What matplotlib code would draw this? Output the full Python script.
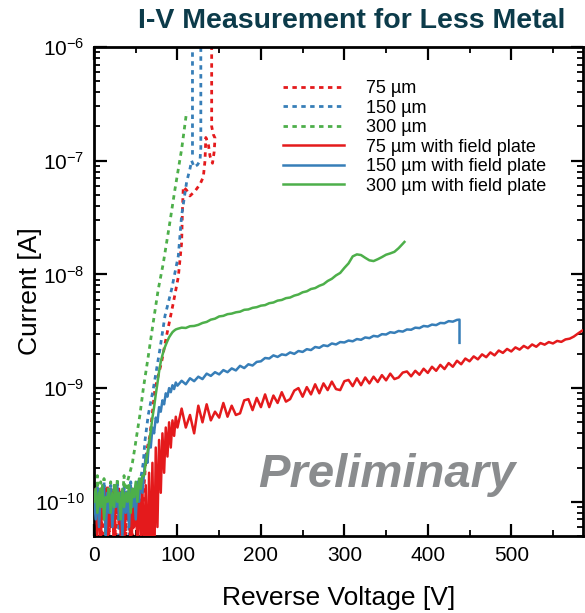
import numpy as np
import matplotlib
matplotlib.use('Agg')
import matplotlib.pyplot as plt
from matplotlib.ticker import LogLocator, MultipleLocator, FixedLocator, NullFormatter

plt.rcParams['font.family'] = ['Liberation Sans', 'DejaVu Sans']
plt.rcParams['mathtext.default'] = 'regular'

# ---- data (current in nA) ----
# 75 um, no field plate (dotted)
v_75 = list(range(0, 62, 2)) + [63, 67, 73, 81, 87, 95, 101, 105, 106, 107, 111, 115, 121, 127, 131, 133,
                                 134, 137, 139, 142, 144, 145, 143, 141, 141]
i_75 = [0.09, 0.05, 0.12, 0.06, 0.13, 0.04, 0.11, 0.07, 0.14, 0.05, 0.10, 0.08, 0.13, 0.04, 0.12, 0.06,
        0.11, 0.08, 0.13, 0.05, 0.12, 0.07, 0.10, 0.04, 0.13, 0.06, 0.12, 0.08, 0.11, 0.05, 0.14,
        0.28, 0.38, 0.98, 1.7, 2.9, 5.6, 9.5, 19, 37, 59, 55, 49, 54, 62, 72, 100,
        160, 140, 110, 95, 120, 158, 170, 200, 3000]

# 150 um, no field plate (dotted)
v_150 = list(range(0, 58, 2)) + [59, 61, 65, 71, 79, 85, 93, 101, 105, 111, 115, 117, 120, 124, 127, 128,
                                 128, 118, 118]
i_150 = [0.12, 0.07, 0.14, 0.06, 0.11, 0.09, 0.15, 0.05, 0.12, 0.08, 0.14, 0.06, 0.13, 0.09, 0.15,
         0.05, 0.12, 0.07, 0.14, 0.08, 0.13, 0.05, 0.15, 0.09, 0.12, 0.06, 0.14, 0.10, 0.16,
         0.22, 0.34, 0.58, 0.98, 2.2, 4.3, 7.4, 14.5, 33, 65, 85, 100, 88, 92, 100, 130,
         3000, 3000, 110]

# 300 um, no field plate (dotted)
v_300 = list(range(0, 42, 2)) + [43, 46, 49, 52, 55, 59, 65, 71, 77, 83, 91, 97, 105, 111]
i_300 = [0.14, 0.08, 0.17, 0.06, 0.15, 0.09, 0.16, 0.05, 0.13, 0.08, 0.15, 0.06, 0.14, 0.09, 0.16,
         0.07, 0.13, 0.10, 0.17, 0.08, 0.15,
         0.18, 0.22, 0.30, 0.42, 0.58, 0.98, 1.9, 3.8, 7.4, 12.5, 29, 56, 126, 270]

# 75 um with field plate
v_75fp = list(range(0, 102, 2)) + list(range(105, 590, 5))
i_75fp = [0.08, 0.13, 0.05, 0.11, 0.04, 0.12, 0.07, 0.13, 0.04, 0.10, 0.06, 0.12, 0.03, 0.11, 0.08,
          0.13, 0.05, 0.12, 0.04, 0.10, 0.07, 0.12, 0.03, 0.13, 0.06, 0.11, 0.04, 0.12, 0.05, 0.13,
          0.03, 0.14, 0.02, 0.18, 0.03, 0.22, 0.02, 0.30, 0.06, 0.35, 0.12, 0.40, 0.18, 0.45, 0.25,
          0.50, 0.30, 0.52, 0.38, 0.56, 0.45,
          0.66, 0.45, 0.58, 0.40, 0.70, 0.50, 0.72, 0.52, 0.62, 0.55,
          0.74, 0.56, 0.70, 0.58, 0.60, 0.78, 0.80, 0.64, 0.82, 0.68,
          0.88, 0.68, 0.86, 0.74, 0.92, 0.76, 0.80, 0.95, 1.00, 0.84,
          1.02, 0.88, 1.08, 0.90, 1.10, 0.96, 1.14, 0.98, 0.96, 1.15,
          1.18, 1.04, 1.22, 1.06, 1.24, 1.10, 1.26, 1.13, 1.30, 1.17,
          1.34, 1.20, 1.24, 1.37, 1.40, 1.27, 1.42, 1.31, 1.48, 1.36,
          1.54, 1.42, 1.60, 1.47, 1.66, 1.54, 1.74, 1.62, 1.82, 1.72,
          1.90, 1.79, 1.98, 1.87, 2.06, 1.94, 2.14, 2.04, 2.21, 2.10,
          2.28, 2.18, 2.35, 2.24, 2.42, 2.31, 2.49, 2.41, 2.54, 2.47,
          2.60, 2.55, 2.68, 2.72, 2.84, 3.02, 3.2]

# 150 um with field plate
v_150fp = list(range(0, 102, 2)) + list(range(105, 440, 5)) + [438, 438]
i_150fp = [0.11, 0.07, 0.13, 0.06, 0.12, 0.09, 0.14, 0.05, 0.12, 0.08, 0.13, 0.06, 0.11, 0.09, 0.14,
           0.07, 0.12, 0.05, 0.13, 0.08, 0.12, 0.06, 0.14, 0.09, 0.13, 0.07, 0.15, 0.10, 0.16, 0.12,
           0.18, 0.26, 0.22, 0.34, 0.30, 0.45, 0.40, 0.55, 0.50, 0.68, 0.62, 0.78, 0.72, 0.90, 0.84,
           1.00, 0.92, 1.06, 0.98, 1.12, 1.05,
           1.16, 1.08, 1.22, 1.15, 1.26, 1.20, 1.34, 1.28, 1.38, 1.32, 1.44, 1.38, 1.49, 1.43, 1.57,
           1.50, 1.62, 1.58, 1.70, 1.72, 1.84, 1.82, 1.94, 1.88, 1.98, 1.95, 2.06, 2.00, 2.12, 2.08,
           2.20, 2.16, 2.30, 2.26, 2.38, 2.34, 2.47, 2.42, 2.54, 2.52, 2.62, 2.58, 2.70, 2.66, 2.79,
           2.75, 2.88, 2.84, 2.98, 2.96, 3.10, 3.06, 3.18, 3.14, 3.28, 3.26, 3.40, 3.37, 3.52, 3.48,
           3.62, 3.58, 3.74, 3.72, 3.88, 3.84, 3.98, 4.00, 2.5]

# 300 um with field plate
v_300fp = list(range(0, 102, 2)) + list(range(105, 375, 5)) + [372]
i_300fp = [0.10, 0.13, 0.08, 0.12, 0.09, 0.14, 0.07, 0.11, 0.10, 0.13, 0.08, 0.12, 0.09, 0.14, 0.10,
           0.12, 0.07, 0.13, 0.09, 0.12, 0.10, 0.14, 0.08, 0.13, 0.11, 0.15, 0.10, 0.16, 0.13, 0.17,
           0.17, 0.22, 0.27, 0.33, 0.42, 0.55, 0.68, 0.88, 1.10, 1.40, 1.70, 1.95, 2.20, 2.40, 2.60,
           2.80, 2.95, 3.10, 3.20, 3.28, 3.32,
           3.40, 3.38, 3.50, 3.52, 3.60, 3.74, 3.82, 4.00, 4.08, 4.27, 4.32, 4.47, 4.52, 4.64, 4.70,
           4.88, 4.92, 5.08, 5.15, 5.31, 5.37, 5.58, 5.66, 5.88, 5.96, 6.18, 6.26, 6.51, 6.66, 6.96,
           7.10, 7.44, 7.58, 7.94, 8.20, 8.75, 9.15, 9.80, 10.3, 11.4, 12.5, 14.4, 15.0, 14.8, 14.0,
           13.3, 13.1, 13.6, 14.2, 14.9, 15.3, 15.8, 17.0, 18.6, 19.3]

red = '#e41a1c'
blue = '#377eb8'
green = '#4daf4a'

fig = plt.figure(figsize=(5.85, 6.13), dpi=100)
ax = fig.add_axes([0.1607, 0.1256, 0.8359, 0.7977])

dot = (0, (1.6, 1.6))
ax.plot(v_75, np.array(i_75) * 1e-9, color=red, lw=2, ls=dot, label='75 µm')
ax.plot(v_150, np.array(i_150) * 1e-9, color=blue, lw=2, ls=dot, label='150 µm')
ax.plot(v_300, np.array(i_300) * 1e-9, color=green, lw=2, ls=dot, label='300 µm')
ax.plot(v_75fp, np.array(i_75fp) * 1e-9, color=red, lw=1.8, label='75 µm with field plate')
ax.plot(v_150fp, np.array(i_150fp) * 1e-9, color=blue, lw=1.8, label='150 µm with field plate')
ax.plot(v_300fp, np.array(i_300fp) * 1e-9, color=green, lw=1.8, label='300 µm with field plate')

# draw order like the original: green solid under blue under red
for ln, z in zip(ax.lines, [2, 2, 2, 3, 4, 5]):
    ln.set_zorder(z)

ax.set_yscale('log')
ax.set_xlim(0, 586)
ax.set_ylim(5e-11, 1e-6)

ax.xaxis.set_major_locator(MultipleLocator(100))
ax.xaxis.set_minor_locator(MultipleLocator(50))
ax.yaxis.set_major_locator(FixedLocator([1e-10, 1e-9, 1e-8, 1e-7, 1e-6]))
ax.yaxis.set_minor_locator(LogLocator(base=10, subs=np.arange(2, 10)))
ax.yaxis.set_minor_formatter(NullFormatter())
ax.set_yticklabels([r'$10^{-10}$', r'$10^{-9}$', r'$10^{-8}$', r'$10^{-7}$', r'$10^{-6}$'])

ax.tick_params(which='both', direction='in', top=True, right=True, labelsize=15, colors='black')
ax.tick_params(which='major', length=9, width=1.6, pad=7)
ax.tick_params(which='minor', length=4.5, width=1.3)
for s in ax.spines.values():
    s.set_linewidth(2)

ax.set_xlabel('Reverse Voltage [V]', fontsize=19)
ax.set_ylabel('Current [A]', fontsize=19)
ax.xaxis.set_label_coords(0.5, -0.102)
ax.yaxis.set_label_coords(-0.107, 0.5)

ax.legend(loc='upper left', bbox_to_anchor=(283 / 585, 1 - 80 / 613), bbox_transform=fig.transFigure,
          frameon=False, fontsize=13, handlelength=3.4, handletextpad=1.2, labelspacing=0.14,
          borderpad=0, borderaxespad=0)

fig.text(352 / 585, 1 - 21 / 613, 'I-V Measurement for Less Metal', ha='center', va='center',
         fontsize=20.5, fontweight='bold', color='#0c3b4a')
fig.text(387 / 585, 1 - 475 / 613, 'Preliminary', ha='center', va='center', fontsize=34,
         fontweight='bold', fontstyle='italic', color='#8a8c8e')

fig.savefig('out.png', dpi=100)
